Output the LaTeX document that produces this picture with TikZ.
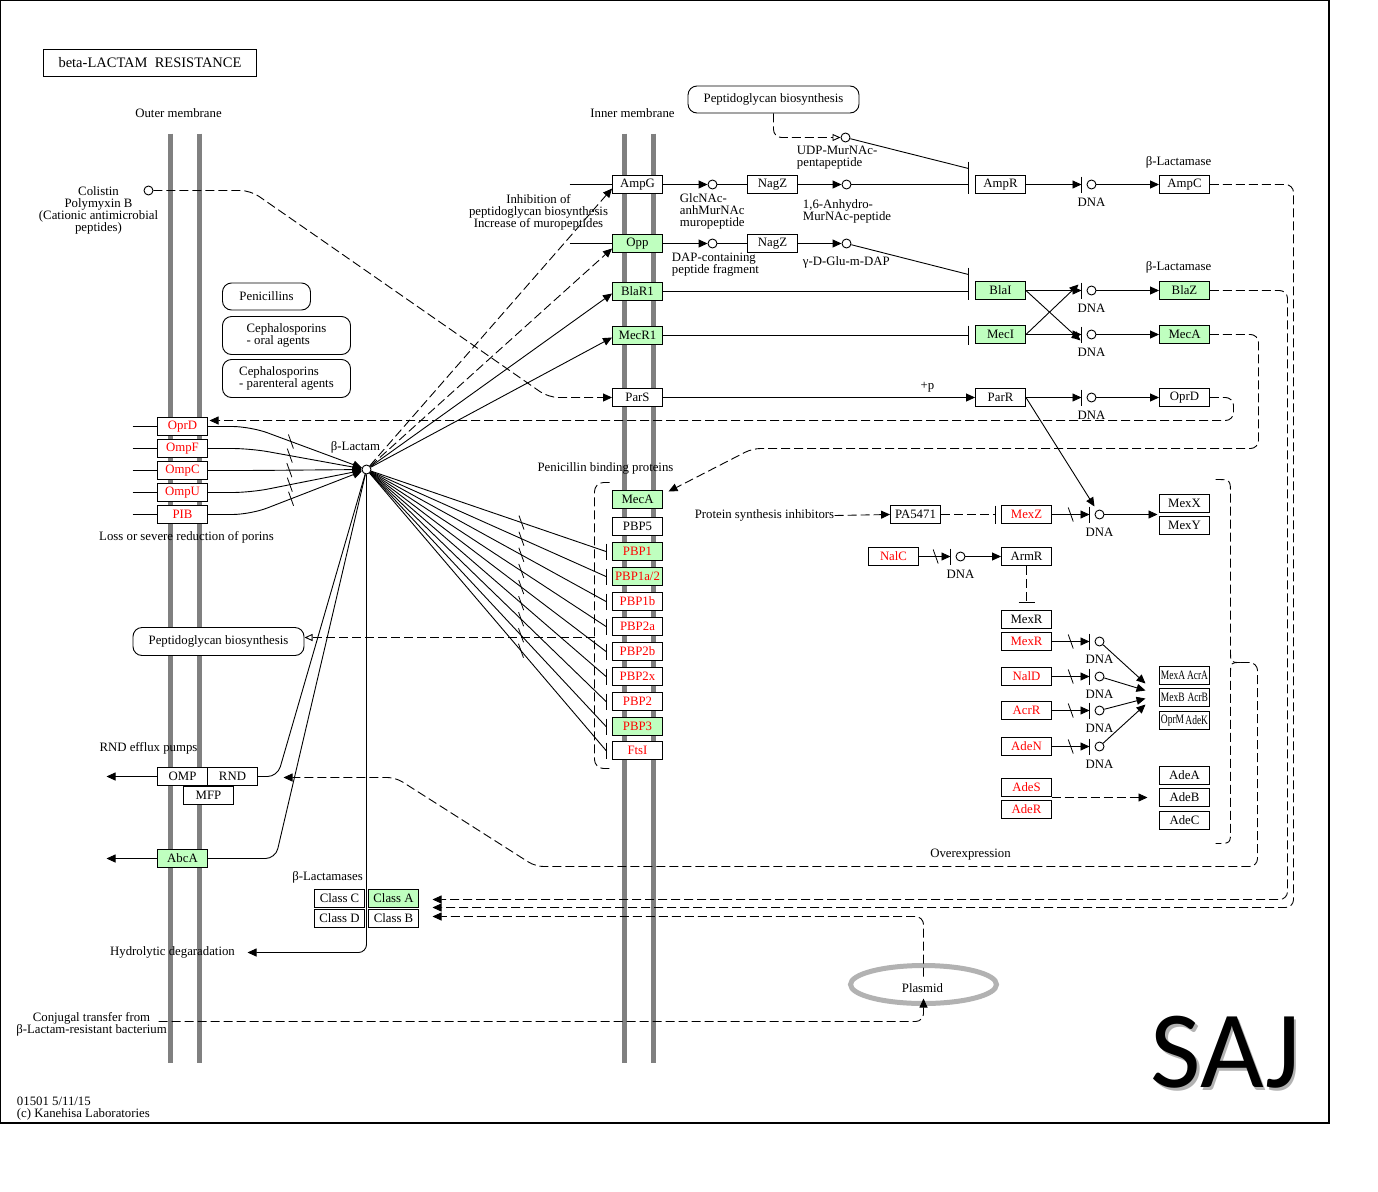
\documentclass[tikz,border=0pt]{standalone}
\usepackage{fontspec}
\usepackage{graphicx}
\setmainfont{Liberation Serif}
\newfontfamily\sajfont{Carlito}
\usetikzlibrary{arrows.meta,calc,decorations.markings}
\definecolor{kgreen}{RGB}{191,255,191}
\definecolor{memgray}{RGB}{128,128,128}
\definecolor{plasgray}{RGB}{178,178,178}
\definecolor{kred}{RGB}{255,0,0}
\newcommand\dnax[5][]{%
  \coordinate (#5b) at (#3,#4);
  \draw[arr,#1] (#2.east) -- (#5b);
  \draw ($(#5b)+(0,-8)$) -- ($(#5b)+(0,8)$);
  \node[cpd] (#5) at ($(#5b)+(10,0)$) {};
  \node[lbl] at ($(#5b)+(10,18)$) {DNA};}
\newcommand\sq[1]{\scalebox{0.74}[1]{#1}}
\begin{document}
\begin{tikzpicture}[x=1pt,y=-1pt,line width=0.9pt,
  every node/.style={font=\fontsize{12.8}{12}\selectfont},
  box/.style={draw,rectangle,minimum width=50pt,minimum height=18pt,inner sep=0pt,fill=white},
  gbox/.style={box,fill=kgreen},
  rt/.style={text=kred},
  cpd/.style={draw,circle,minimum size=9pt,inner sep=0pt,fill=white},
  mapbox/.style={draw,rounded corners=9pt,inner sep=0pt,fill=white},
  arr/.style={-{Triangle[length=9pt,width=8pt]}},
  oarr/.style={-{Triangle[open,length=8pt,width=7pt,fill=white]}},
  dsh/.style={dash pattern=on 9pt off 4pt},
  memb/.style={line width=4.5pt,draw=memgray},
  lbl/.style={inner sep=0pt,align=center},
  slashat/.style={postaction={decorate,decoration={markings,mark=at position #1 with {\pgftransformresetnontranslations\draw[-,solid,line width=0.8pt] (-2.5pt,7pt) -- (2.5pt,-7pt);}}}},
]
\useasboundingbox (0,0) rectangle (1378,1191);
\fill[white] (0,0) rectangle (1378,1191);
\draw[line width=1.2pt] (0.6,0.6) rectangle (1329,1123);
\begin{scope}[shift={(0.5,0.5)}]
% membranes
\draw[memb] (170,133) -- (170,1062);
\draw[memb] (199,133) -- (199,1062);
\draw[memb] (624,133) -- (624,1062);
\draw[memb] (653,133) -- (653,1062);

% labels
\node[draw,line width=1.6pt,minimum width=213pt,minimum height=27pt,inner sep=0pt,font=\fontsize{14.5}{14}\selectfont] (title) at (149.5,62.5) {beta-LACTAM\ \ RESISTANCE};
\node[lbl] (omlab) at (178,113) {Outer membrane};
\node[lbl] (imlab) at (632,113) {Inner membrane};
\node[lbl] (collab) at (98,209.5) {Colistin\\Polymyxin B\\(Cationic antimicrobial\\peptides)};
\node[cpd] (col) at (148,190) {};
\node[mapbox,minimum width=88pt,minimum height=27pt] (pen) at (266,296) {Penicillins};
\node[mapbox,minimum width=128pt,minimum height=38pt,align=left] (ceph1) at (286,335) {Cephalosporins\\- oral agents};
\node[mapbox,minimum width=128pt,minimum height=38pt,align=left] (ceph2) at (286,378) {Cephalosporins\\- parenteral agents};
\node[mapbox,minimum width=171pt,minimum height=27pt] (pgtop) at (773,99) {Peptidoglycan biosynthesis};
\node[mapbox,minimum width=171pt,minimum height=28pt] (pgbot) at (218,641) {Peptidoglycan biosynthesis};

% top pathway
\node[cpd] (udp) at (845,137) {};
\node[lbl,anchor=west,align=left] (udplab) at (796,157.5) {UDP-MurNAc-\\pentapeptide};
\node[box] (ampg) at (637,184) {AmpG};
\node[cpd] (c1) at (712,184) {};
\node[box] (nagz1) at (772,184) {NagZ};
\node[cpd] (c2) at (846,184) {};
\node[box] (ampr) at (1000,184) {AmpR};
\node[box] (ampc) at (1184,184) {AmpC};
\node[lbl] (bl1) at (1178,162) {β-Lactamase};
\node[lbl,anchor=west,align=left] (glab) at (679,211) {GlcNAc-\\anhMurNAc\\muropeptide};
\node[lbl,anchor=west,align=left] (alab) at (802,210.5) {1,6-Anhydro-\\MurNAc-peptide};
\node[gbox] (opp) at (637,243) {Opp};
\node[cpd] (c3) at (712,243) {};
\node[box] (nagz2) at (772,243) {NagZ};
\node[cpd] (c4) at (846,243) {};
\node[lbl,anchor=west,align=left] (dlab) at (671,264) {DAP-containing\\peptide fragment};
\node[lbl,anchor=west] (gdlab) at (802,262) {γ-D-Glu-m-DAP};
\node[gbox] (blar1) at (637,291) {BlaR1};
\node[gbox] (blai) at (1000,290) {BlaI};
\node[gbox] (blaz) at (1184,290) {BlaZ};
\node[lbl] (bl2) at (1178,267) {β-Lactamase};
\node[gbox] (mecr1) at (637,335) {MecR1};
\node[gbox] (meci) at (1000,334) {MecI};
\node[gbox] (mecaR) at (1184,334) {MecA};
\node[box] (pars) at (637,397) {ParS};
\node[box] (parr) at (1000,397) {ParR};
\node[box] (oprdR) at (1184,397) {OprD};
\node[lbl] (plab) at (927,387) {+p};
\node[lbl] (inhlab) at (538,212) {Inhibition of\\peptidoglycan biosynthesis\\Increase of muropeptides};

% beta-lactam and porins
\node[cpd] (blac) at (366,469) {};
\node[lbl] (blaclab) at (355,447) {β-Lactam};
\node[box,rt] (oprdL) at (182,426) {OprD};
\node[box,rt] (ompf) at (182,448) {OmpF};
\node[box,rt] (ompc) at (182,470) {OmpC};
\node[box,rt] (ompu) at (182,492) {OmpU};
\node[box,rt] (pib) at (182,514) {PIB};
\node[lbl] (losslab) at (186,537) {Loss or severe reduction of porins};

% PBPs
\node[lbl] (pbplab) at (605,468) {Penicillin binding proteins};
\node[gbox] (mecaP) at (637,499) {MecA};
\node[box] (pbp5) at (637,526) {PBP5};
\node[gbox,rt] (pbp1) at (637,551) {PBP1};
\node[gbox,rt] (pbp1a2) at (637,576) {PBP1a/2};
\node[box,rt] (pbp1b) at (637,601) {PBP1b};
\node[box,rt] (pbp2a) at (637,626) {PBP2a};
\node[box,rt] (pbp2b) at (637,651) {PBP2b};
\node[box,rt] (pbp2x) at (637,676) {PBP2x};
\node[box,rt] (pbp2) at (637,701) {PBP2};
\node[gbox,rt] (pbp3) at (637,726) {PBP3};
\node[box,rt] (ftsi) at (637,750) {FtsI};

% right side
\node[lbl] (psi) at (764,515) {Protein synthesis inhibitors};
\node[box] (pa) at (915,514) {PA5471};
\node[box,rt] (mexz) at (1026,514) {MexZ};
\node[box] (mexx) at (1184,503) {MexX};
\node[box] (mexy) at (1184,525) {MexY};
\node[box,rt] (nalc) at (893,556) {NalC};
\node[box] (armr) at (1026,556) {ArmR};
\node[box] (mexr1) at (1026,619) {MexR};
\node[box,rt] (mexr2) at (1026,641) {MexR};
\node[box,rt] (nald) at (1026,676) {NalD};
\node[box,rt] (acrr) at (1026,710) {AcrR};
\node[box,rt] (aden) at (1026,746) {AdeN};
\node[box] (g1) at (1184,675) {};
\node[lbl,anchor=west] (g1a) at (1160,675) {\sq{MexA}};
\node[lbl,anchor=east] (g1b) at (1208,675) {\sq{AcrA}};
\node[box] (g2) at (1184,697) {};
\node[lbl,anchor=west] (g2a) at (1160,697) {\sq{MexB}};
\node[lbl,anchor=east] (g2b) at (1208,697) {\sq{AcrB}};
\node[box] (g3) at (1184,720) {};
\node[lbl,anchor=west] (g3a) at (1160,720) {\sq{OprM}};
\node[lbl,anchor=east] (g3b) at (1208,720) {\sq{AdeK}};
\node[box,rt] (ades) at (1026,787) {AdeS};
\node[box,rt] (ader) at (1026,809) {AdeR};
\node[box] (adea) at (1184,775) {AdeA};
\node[box] (adeb) at (1184,797) {AdeB};
\node[box] (adec) at (1184,820) {AdeC};
\node[lbl] (overlab) at (970,854) {Overexpression};

% bottom left
\node[lbl] (rndlab) at (148,748) {RND efflux pumps};
\node[box] (omp) at (182,776) {OMP};
\node[box] (rnd) at (232,776) {RND};
\node[box] (mfp) at (208,795) {MFP};
\node[gbox] (abca) at (182,858) {AbcA};
\node[lbl] (bllab) at (327,877) {β-Lactamases};
\node[box] (clsC) at (339,898) {Class C};
\node[gbox] (clsA) at (393,898) {Class A};
\node[box] (clsD) at (339,918) {Class D};
\node[box] (clsB) at (393,918) {Class B};
\node[lbl] (hyd) at (172,952) {Hydrolytic degaradation};
\node[lbl] (conj) at (91,1024) {Conjugal transfer from\\β-Lactam-resistant bacterium};
\draw[plasgray,line width=5pt] (923,984) ellipse [x radius=73pt, y radius=19pt];
\node[lbl] (plas) at (922,988) {Plasmid};
\node[lbl,anchor=west,align=left] (foot) at (16,1108) {01501 5/11/15\\(c) Kanehisa Laboratories};
\node[anchor=base,inner sep=0pt,text=black!30,font=\sajfont\fontsize{110}{110}\selectfont] (sajsh) at (1227.5,1089.5) {SAJ};
\node[anchor=base,inner sep=0pt,font=\sajfont\fontsize{110}{110}\selectfont] (saj) at (1225,1087) {SAJ};

% coordinates for free ends
\coordinate (ampgin) at (569,184);
\coordinate (oppin) at (569,243);
\coordinate (ampbarA) at (968,168);
\coordinate (ampbarB) at (968,184);
\coordinate (blabarA) at (968,274);
\coordinate (blabarB) at (968,291);
\coordinate (mecbar) at (968,335);
\coordinate (hydend) at (247,952);
\coordinate (ompout) at (106,776);
\coordinate (abcout) at (106,858);
\coordinate (clsin1) at (432,899);
\coordinate (clsin2) at (432,907);
\coordinate (clsin3) at (432,916);
\coordinate (mecaPin) at (668,491);
\coordinate (oprdin) at (209,420);
\coordinate (plastop) at (923,976);
\coordinate (plasbot) at (923,998);
\coordinate (conjst) at (158,1021);
\coordinate (bracetip) at (1240,662);
\coordinate (rndin) at (283,777);
\coordinate (pbpbr) at (594,637);
\coordinate (pgbin) at (304,637);
\coordinate (mexxyin) at (1157,514);
\coordinate (pabar) at (995,514);
\coordinate (armbar) at (1026,602);
\coordinate (gin1) at (1145,683);
\coordinate (gin2) at (1145,690);
\coordinate (gin3) at (1145,698);
\coordinate (gin4) at (1145,704);
\coordinate (adeout) at (1051,797);
\coordinate (adein) at (1147,797);

% bars
\draw (968,161) -- (968,193);
\draw (968,267) -- (968,299);
\draw (968,325) -- (968,344);
\draw (995,505) -- (995,523);
\draw (1018,602) -- (1034,602);

% porins
\foreach \n/\y in {oprdL/426,ompf/448,ompc/470,ompu/492,pib/514}{
  \draw (132,\y) -- (\n.west);
  \draw[arr,rounded corners=18pt,slashat=0.53] (\n.east) -- (250,\y) -- (blac);
}

% beta-lactam to inner membrane
\draw[dsh,arr] (blac) -- ([yshift=-4pt]ampg.west);
\draw[dsh,arr] (blac) -- ([yshift=-5pt]opp.west);
\draw[arr] (blac) -- ([yshift=-2pt]blar1.west);
\draw[arr] (blac) -- ([yshift=-2pt]mecr1.west);
\foreach \n in {pbp1,pbp1a2,pbp1b,pbp2a,pbp2b,pbp2x,pbp2,pbp3,ftsi}{
  \draw[slashat=0.64] (blac) -- ([xshift=-6pt]\n.west);
  \draw ([xshift=-6pt,yshift=8pt]\n.west) -- ([xshift=-6pt,yshift=-8pt]\n.west);
}
\draw[rounded corners=10pt] (blac) -- (277,776) -- (rnd.east);
\draw[rounded corners=10pt] (blac) -- (275,858) -- (abca.east);
\draw[arr,rounded corners=8pt] (blac) -- (366,952) -- (hydend);
\draw[arr] (omp.west) -- (ompout);
\draw[arr] (abca.west) -- (abcout);

% colistin
\draw[dsh,arr,rounded corners=10pt] (col) -- (250,190) -- (548,397) -- (pars.west);

% top pathway connectors
\draw[dsh,oarr,rounded corners=8pt] (pgtop.south) -- (773,137) -- (udp);
\draw (udp) -- (ampbarA);
\draw (ampgin) -- (ampg.west);
\draw[arr] (ampg) -- (c1);
\draw (c1) -- (nagz1);
\draw[arr] (nagz1) -- (c2);
\draw (c2) -- (ampbarB);
\dnax{ampr}{1081}{184}{dnaA}
\draw[arr] (dnaA) -- (ampc);
\draw (oppin) -- (opp.west);
\draw[arr] (opp) -- (c3);
\draw (c3) -- (nagz2);
\draw[arr] (nagz2) -- (c4);
\draw (c4) -- (blabarA);
\draw (blar1) -- (blabarB);
\dnax{blai}{1081}{290}{dnaB}
\draw[arr] (dnaB) -- (blaz);
\draw (mecr1) -- (mecbar);
\dnax{meci}{1081}{334}{dnaM}
\draw[arr] (dnaM) -- (mecaR);
\draw[arr] (blai.east) -- ([xshift=-11pt,yshift=-6pt]dnaM.center);
\draw[arr] (meci.east) -- ([xshift=-13pt,yshift=6pt]dnaB.center);
\draw[arr] (pars) -- (parr);
\dnax{parr}{1081}{397}{dnaP}
\draw[arr] (dnaP) -- (oprdR);

% right middle
\draw[dsh,arr] (psi.east) -- (pa.west);
\draw[dsh] (pa.east) -- (pabar);
\dnax[slashat=0.5]{mexz}{1089}{514}{dnaZ}
\draw[arr] (dnaZ) -- (mexxyin);
\draw[arr] (parr.east) -- ([xshift=-5pt,yshift=8pt]dnaZ.center);
\dnax[slashat=0.53]{nalc}{950}{556}{dnaN}
\draw[arr] (dnaN) -- (armr);
\draw[dsh] (armr.south) -- (armbar);
\dnax[slashat=0.5]{mexr2}{1089}{641}{dnaR1}
\dnax[slashat=0.5]{nald}{1089}{676}{dnaR2}
\dnax[slashat=0.5]{acrr}{1089}{710}{dnaR3}
\dnax[slashat=0.5]{aden}{1089}{746}{dnaR4}
\draw[arr] (dnaR1) -- (gin1);
\draw[arr] (dnaR2) -- (gin2);
\draw[arr] (dnaR3) -- (gin3);
\draw[arr] (dnaR4) -- (gin4);
\draw[dsh,arr] (adeout) -- (adein);

% brace
\draw[dsh] (1215,479) .. controls (1230,479) .. (1230,494) -- (1230,650) .. controls (1230,662) .. (bracetip);
\draw[dsh] (bracetip) .. controls (1230,662) .. (1230,674) -- (1230,830) .. controls (1230,843) .. (1215,843);

% PBP bracket and peptidoglycan
\draw[dsh,rounded corners=9pt] (609,482) -- (594,482) -- (594,768) -- (609,768);
\draw[dsh,oarr] (pbpbr) -- (pgbin);

% long dashed feedback lines
\draw[dsh,arr,rounded corners=8pt] (ampc.east) -- (1293,184) -- (1293,907) -- (clsin2);
\draw[dsh,arr,rounded corners=8pt] (blaz.east) -- (1287,290) -- (1287,899) -- (clsin1);
\draw[dsh,arr,rounded corners=8pt] (mecaR.east) -- (1258,334) -- (1258,448) -- (752,448) -- (mecaPin);
\draw[dsh,arr,rounded corners=8pt] (oprdR.east) -- (1233,397) -- (1233,420) -- (oprdin);
\draw[dsh,arr,rounded corners=8pt] (bracetip) -- (1257,662) -- (1257,866) -- (535,866) -- (395,777) -- (rndin);
\draw[dsh,arr,rounded corners=8pt] (plastop) -- (923,916) -- (clsin3);
\draw[dsh,arr,rounded corners=8pt] (conjst) -- (923,1021) -- (plasbot);
\end{scope}
\end{tikzpicture}
\end{document}
